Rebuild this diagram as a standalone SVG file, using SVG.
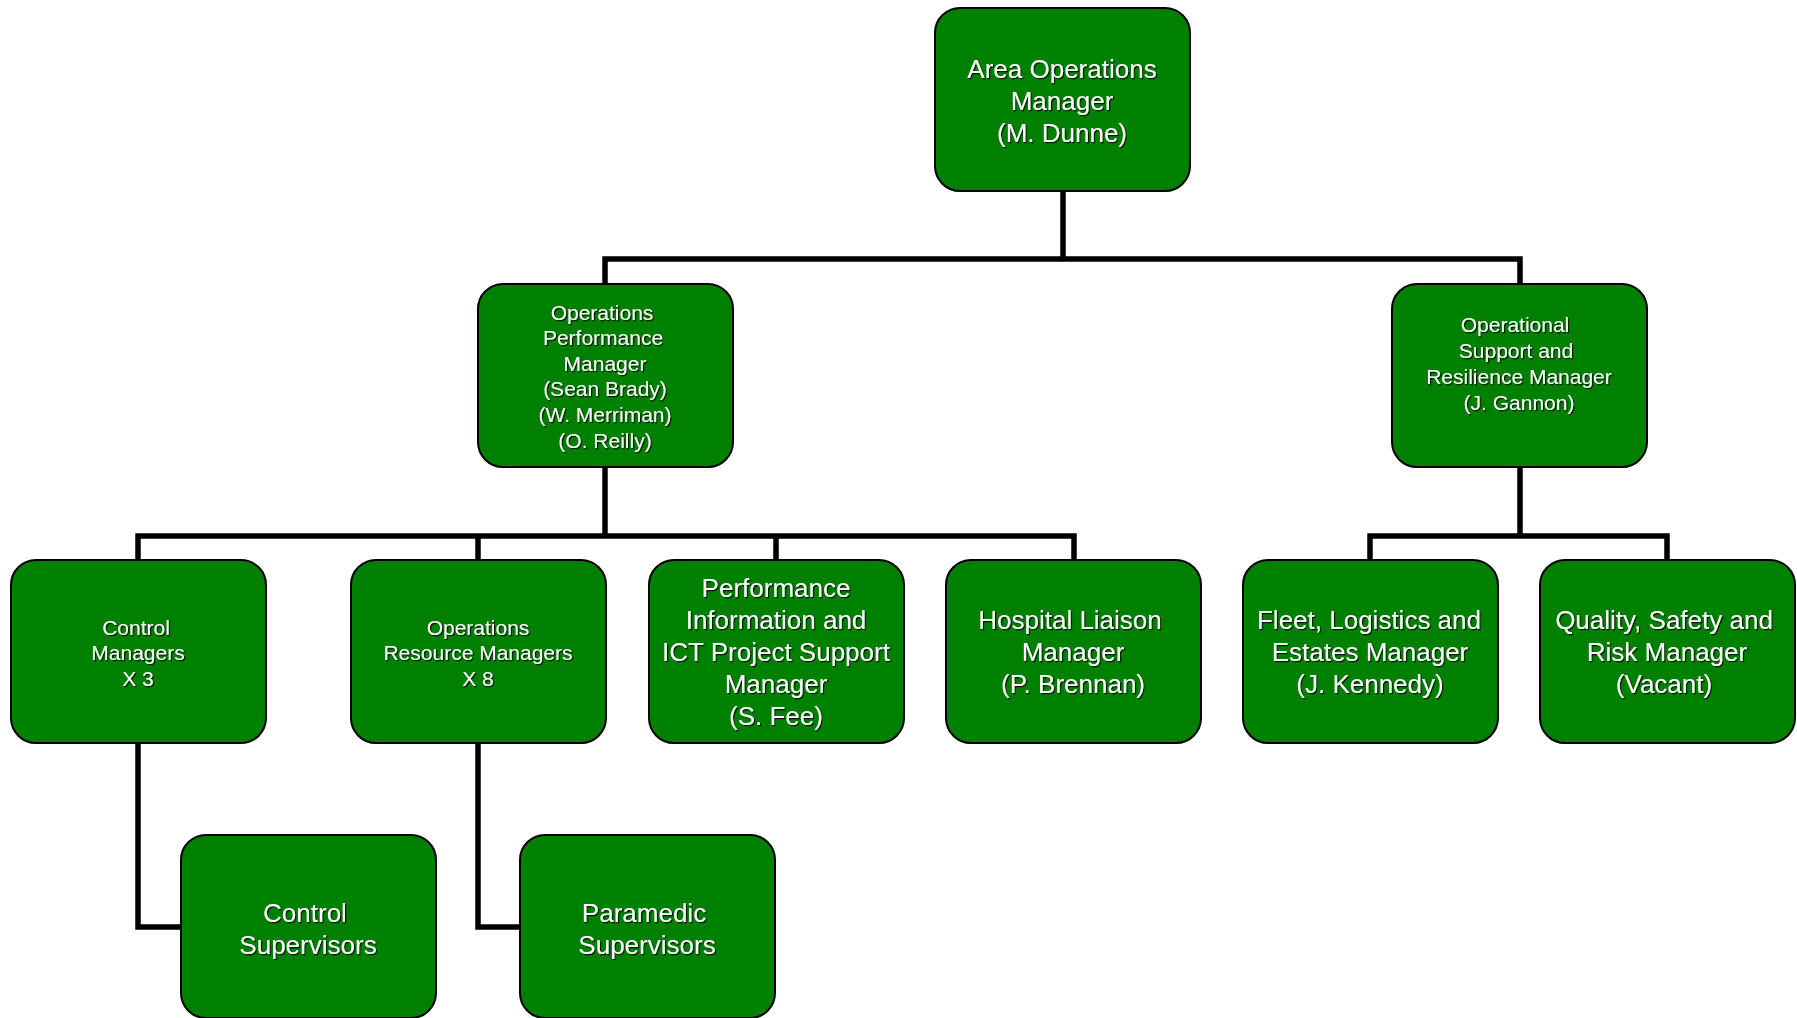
<svg xmlns="http://www.w3.org/2000/svg" width="1797" height="1018" viewBox="0 0 1797 1018">
<defs>
<filter id="sh" x="-10%" y="-10%" width="120%" height="130%">
<feDropShadow dx="1.2" dy="1.2" stdDeviation="0.6" flood-color="#000" flood-opacity="0.85"/>
</filter>
</defs>
<style>
.box{fill:#008000;stroke:#000;stroke-width:2}
.t{font-family:"Liberation Sans",Arial,sans-serif;fill:#fff;text-anchor:middle;filter:url(#sh)}
.l{font-size:26px}
.s{font-size:21px}
.c{fill:none;stroke:#000;stroke-width:5.5;stroke-linejoin:miter;stroke-linecap:butt}
</style>
<rect width="1797" height="1018" fill="#fff"/>
<g id="connectors">
<polyline class="c" points="1063,191 1063,259"/>
<polyline class="c" points="605,284 605,259 1520,259 1520,284"/>
<polyline class="c" points="605,467 605,536"/>
<polyline class="c" points="138,560 138,536 1074,536 1074,560"/>
<polyline class="c" points="478,536 478,560"/>
<polyline class="c" points="776,536 776,560"/>
<polyline class="c" points="1520,467 1520,536"/>
<polyline class="c" points="1370,560 1370,536 1667,536 1667,560"/>
<polyline class="c" points="138,744 138,927 181,927"/>
<polyline class="c" points="478,744 478,927 520,927"/>
</g>
<g id="area-ops">
<rect class="box" x="935" y="8" width="255" height="183" rx="25"/>
<text class="t l" x="1062"><tspan x="1062" y="78">Area Operations</tspan><tspan x="1062" y="110">Manager</tspan><tspan x="1062" y="142">(M. Dunne)</tspan></text>
</g>
<g id="ops-perf">
<rect class="box" x="478" y="284" width="255" height="183" rx="25"/>
<text class="t s"><tspan x="602" y="319.5">Operations</tspan><tspan x="603" y="345">Performance</tspan><tspan x="605" y="370.5">Manager</tspan><tspan x="605" y="396">(Sean Brady)</tspan><tspan x="605" y="421.5">(W. Merriman)</tspan><tspan x="605" y="447.5">(O. Reilly)</tspan></text>
</g>
<g id="op-support">
<rect class="box" x="1392" y="284" width="255" height="183" rx="25"/>
<text class="t s"><tspan x="1515" y="332">Operational</tspan><tspan x="1516" y="358">Support and</tspan><tspan x="1519" y="384">Resilience Manager</tspan><tspan x="1519" y="409.5">(J. Gannon)</tspan></text>
</g>
<g id="control-managers">
<rect class="box" x="11" y="560" width="255" height="183" rx="25"/>
<text class="t s"><tspan x="136" y="634.5">Control</tspan><tspan x="138" y="660">Managers</tspan><tspan x="138" y="685.5">X 3</tspan></text>
</g>
<g id="ops-resource">
<rect class="box" x="351" y="560" width="255" height="183" rx="25"/>
<text class="t s"><tspan x="478" y="634.5">Operations</tspan><tspan x="478" y="660">Resource Managers</tspan><tspan x="478" y="685.5">X 8</tspan></text>
</g>
<g id="perf-info">
<rect class="box" x="649" y="560" width="255" height="183" rx="25"/>
<text class="t l"><tspan x="776" y="597">Performance</tspan><tspan x="776" y="629">Information and</tspan><tspan x="776" y="661">ICT Project Support</tspan><tspan x="776" y="693">Manager</tspan><tspan x="776" y="725">(S. Fee)</tspan></text>
</g>
<g id="hospital">
<rect class="box" x="946" y="560" width="255" height="183" rx="25"/>
<text class="t l"><tspan x="1070" y="629">Hospital Liaison</tspan><tspan x="1073" y="661">Manager</tspan><tspan x="1073" y="693">(P. Brennan)</tspan></text>
</g>
<g id="fleet">
<rect class="box" x="1243" y="560" width="255" height="183" rx="25"/>
<text class="t l"><tspan x="1369" y="629">Fleet, Logistics and</tspan><tspan x="1370" y="661">Estates Manager</tspan><tspan x="1370" y="693">(J. Kennedy)</tspan></text>
</g>
<g id="quality">
<rect class="box" x="1540" y="560" width="255" height="183" rx="25"/>
<text class="t l"><tspan x="1664" y="629">Quality, Safety and</tspan><tspan x="1667" y="661">Risk Manager</tspan><tspan x="1664" y="693">(Vacant)</tspan></text>
</g>
<g id="control-supervisors">
<rect class="box" x="181" y="835" width="255" height="183" rx="25"/>
<text class="t l"><tspan x="305" y="922">Control</tspan><tspan x="308" y="954">Supervisors</tspan></text>
</g>
<g id="paramedic-supervisors">
<rect class="box" x="520" y="835" width="255" height="183" rx="25"/>
<text class="t l"><tspan x="644" y="922">Paramedic</tspan><tspan x="647" y="954">Supervisors</tspan></text>
</g>
</svg>
